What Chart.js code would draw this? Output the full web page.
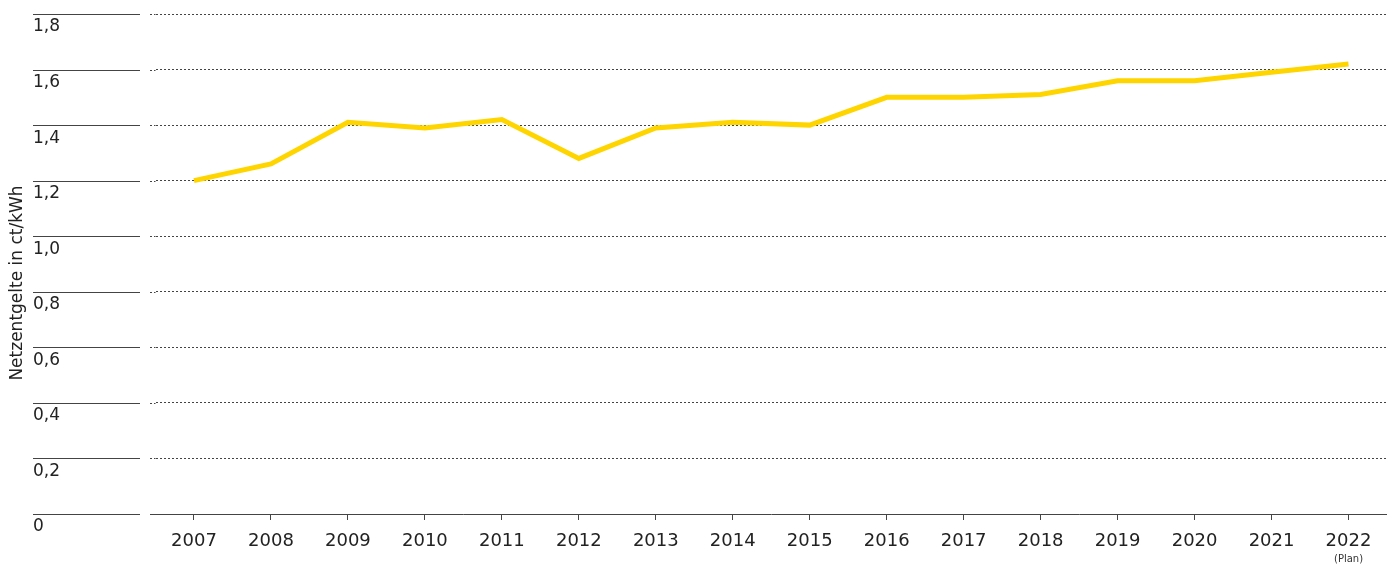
<!DOCTYPE html>
<html lang="de">
<head>
<meta charset="utf-8">
<title>Netzentgelte</title>
<script src="https://cdn.jsdelivr.net/npm/chart.js@4"></script>
<style>
  html, body { margin: 0; padding: 0; background: #fff; }
  #wrap { width: 1387px; height: 565px; position: relative; }
</style>
</head>
<body>
<div id="wrap"><canvas id="chart"></canvas></div>
<script>
// Netzentgelte je Jahr (ct/kWh), 2022 als Plan
const years = ['2007', '2008', '2009', '2010', '2011', '2012', '2013', '2014',
               '2015', '2016', '2017', '2018', '2019', '2020', '2021', '2022'];
const fees = [1.20, 1.26, 1.41, 1.39, 1.42, 1.28, 1.39, 1.41,
              1.40, 1.50, 1.50, 1.51, 1.56, 1.56, 1.59, 1.62];
const yTicks = [0, 0.2, 0.4, 0.6, 0.8, 1.0, 1.2, 1.4, 1.6, 1.8];
const axisTitle = 'Netzentgelte in ct/kWh';
const planNote = '(Plan)';

const FONT = '"DejaVu Sans", Verdana, sans-serif';
const fmt = v => (v === 0 ? '0' : v.toFixed(1).replace('.', ','));

// left column: short solid rules, labels under them, rotated title, "(Plan)" note
const sideDecor = {
  id: 'sideDecor',
  afterDraw(chart) {
    const { ctx, chartArea, scales } = chart;
    const y = scales.y, x = scales.x;
    ctx.save();
    ctx.strokeStyle = '#444';
    ctx.lineWidth = 1;
    yTicks.forEach(v => {
      const py = Math.round(y.getPixelForValue(v)) + 0.5;
      ctx.beginPath();
      ctx.moveTo(33, py);
      ctx.lineTo(140, py);
      ctx.stroke();
      // stretch the grid lines a little to the left
      ctx.setLineDash(v === 0 ? [] : [2, 2]);
      ctx.beginPath();
      ctx.moveTo(150, py);
      ctx.lineTo(chartArea.left, py);
      ctx.stroke();
      ctx.setLineDash([]);
    });
    ctx.fillStyle = '#222';
    ctx.font = '17px ' + FONT;
    ctx.textAlign = 'left';
    ctx.textBaseline = 'middle';
    yTicks.forEach(v => {
      ctx.fillText(fmt(v), 33, y.getPixelForValue(v) + 13);
    });
    ctx.translate(18, (chartArea.top + chartArea.bottom) / 2 + 19);
    ctx.rotate(-Math.PI / 2);
    ctx.textAlign = 'center';
    ctx.fillText(axisTitle, 0, 0);
    ctx.restore();

    ctx.save();
    ctx.fillStyle = '#333';
    ctx.font = '10px ' + FONT;
    ctx.textAlign = 'center';
    ctx.textBaseline = 'middle';
    ctx.fillText(planNote, x.getPixelForValue(years.length - 1), 559);
    ctx.restore();
  }
};

new Chart(document.getElementById('chart'), {
  type: 'line',
  data: {
    labels: years,
    datasets: [{
      label: axisTitle,
      data: fees,
      borderColor: '#FFD500',
      borderWidth: 5,
      pointRadius: 0,
      pointHoverRadius: 0,
      tension: 0,
      fill: false
    }]
  },
  options: {
    responsive: true,
    maintainAspectRatio: false,
    animation: false,
    layout: { padding: { top: 14, left: 0, right: 0, bottom: 0 } },
    plugins: {
      legend: { display: false },
      tooltip: { enabled: false }
    },
    scales: {
      x: {
        offset: true,
        afterFit: s => { s.height = 51; },
        grid: {
          offset: false,
          drawOnChartArea: false,
          drawTicks: true,
          tickLength: 6,
          tickColor: '#444',
          color: '#444'
        },
        border: { display: true, color: '#444', width: 1 },
        ticks: {
          color: '#222',
          font: { family: FONT, size: 18 },
          padding: 11,
          maxRotation: 0,
          autoSkip: false
        }
      },
      y: {
        min: 0,
        max: 1.8,
        afterFit: s => { s.width = 155.5; },
        afterBuildTicks: s => { s.ticks = yTicks.map(v => ({ value: v })); },
        grid: {
          drawTicks: false,
          color: '#444',
          lineWidth: 1
        },
        border: { display: false, dash: [2, 2] },
        ticks: { display: false }
      }
    }
  },
  plugins: [sideDecor]
});
</script>
</body>
</html>
